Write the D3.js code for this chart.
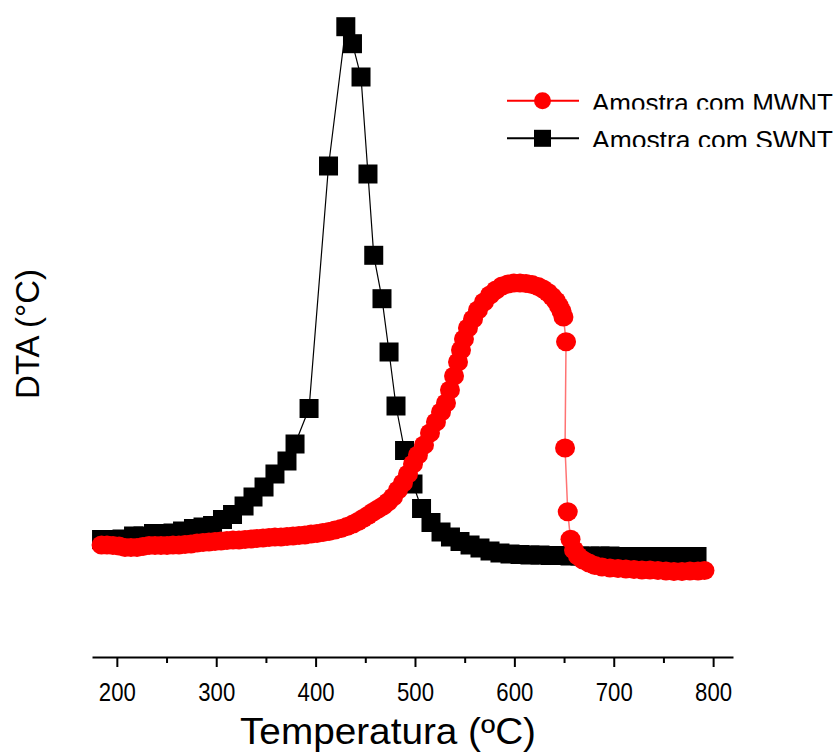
<!DOCTYPE html>
<html>
<head>
<meta charset="utf-8">
<script src="https://cdn.jsdelivr.net/npm/d3@7"></script>
<style>
  html, body { margin: 0; padding: 0; background: #fff; }
  svg { display: block; font-family: "Liberation Sans", Arial, sans-serif; }
</style>
</head>
<body>
<svg id="chart" width="840" height="754"></svg>
<script>
// DTA curves of the two carbon-nanotube samples (temperature in ºC, DTA signal)
const swntTemp = [184.6, 195.1, 205.2, 216.8, 226.3, 236.9, 246.4, 256.5, 266.1, 277.1,
  286.7, 296.3, 306.3, 316.4, 328.0, 337.0, 348.1, 359.1, 371.2, 379.3,
  393.4, 413.0, 430.4, 437.1, 445.7, 452.7, 458.5, 466.8, 473.9, 480.9,
  489.5, 498.0, 506.6, 516.1, 526.2, 535.7, 545.3, 555.4, 565.4, 575.5,
  585.5, 595.6, 605.7, 615.7, 625.8, 635.9, 645.9, 656.0, 666.0, 676.1,
  686.2, 696.2, 706.3, 716.4, 726.4, 736.5, 746.5, 756.6, 766.7, 776.7, 783.8];
const swntDTA = [0.005, 0.005, 0.01, 0.04, 0.04, 0.065, 0.065, 0.07, 0.09, 0.115,
  0.13, 0.145, 0.205, 0.255, 0.34, 0.43, 0.53, 0.66, 0.79, 0.96,
  1.315, 3.74, 5.133, 4.963, 4.63, 3.66, 2.847, 2.413, 1.88, 1.34,
  0.895, 0.56, 0.315, 0.175, 0.08, 0.03, -0.015, -0.05, -0.08, -0.11,
  -0.13, -0.14, -0.145, -0.15, -0.15, -0.155, -0.155, -0.16, -0.16, -0.16,
  -0.16, -0.16, -0.165, -0.165, -0.165, -0.165, -0.165, -0.165, -0.165, -0.165, -0.165];

const mwntTemp = [184.6, 190.1, 196.1, 202.2, 208.2, 214.2, 220.3, 226.3, 232.4, 238.4,
  244.4, 250.5, 256.5, 262.5, 268.6, 274.6, 280.7, 286.7, 292.7, 298.8,
  304.8, 310.8, 316.9, 322.9, 329.0, 335.0, 341.0, 347.1, 353.1, 359.1,
  365.2, 371.2, 377.3, 383.3, 389.3, 395.4, 401.4, 407.4, 413.5, 419.5,
  425.6, 431.6, 437.6, 442.7, 447.7, 452.7, 457.8, 462.8, 467.8, 472.8,
  477.9, 482.9, 487.9, 493.0, 498.0, 503.0, 509.1, 515.1, 521.1, 526.2,
  531.2, 535.2, 539.3, 543.3, 546.3, 549.3, 553.3, 558.4, 563.4, 569.4,
  575.5, 581.5, 587.6, 593.6, 599.6, 605.7, 611.7, 617.7, 623.8, 628.8,
  633.8, 637.9, 641.9, 644.9, 647.4, 649.4, 652.0, 651.0, 653.7, 656.5,
  660.0, 664.0, 669.1, 675.1, 681.1, 688.2, 696.2, 704.3, 712.3, 720.4,
  728.4, 736.5, 744.5, 752.6, 760.6, 768.7, 776.7, 784.8, 791.3];
const mwntDTA = [-0.05, -0.05, -0.055, -0.06, -0.075, -0.075, -0.075, -0.065, -0.055, -0.055,
  -0.055, -0.055, -0.05, -0.05, -0.045, -0.04, -0.03, -0.025, -0.02, -0.015,
  -0.01, -0.005, 0.0, 0.0, 0.005, 0.01, 0.015, 0.02, 0.025, 0.03,
  0.03, 0.035, 0.04, 0.045, 0.05, 0.06, 0.065, 0.075, 0.085, 0.10,
  0.115, 0.135, 0.16, 0.185, 0.215, 0.245, 0.28, 0.31, 0.34, 0.38,
  0.43, 0.50, 0.57, 0.66, 0.76, 0.85, 0.95, 1.07, 1.18, 1.28,
  1.37, 1.50, 1.64, 1.78, 1.90, 2.01, 2.12, 2.21, 2.30, 2.38,
  2.45, 2.50, 2.54, 2.56, 2.57, 2.57, 2.565, 2.555, 2.535, 2.51,
  2.475, 2.435, 2.39, 2.34, 2.29, 2.23, 1.983, 0.92, 0.283, 0.007,
  -0.10, -0.16, -0.20, -0.23, -0.255, -0.27, -0.28, -0.285, -0.29, -0.295,
  -0.30, -0.30, -0.305, -0.31, -0.315, -0.315, -0.31, -0.31, -0.305];

const majorTicks = [200, 300, 400, 500, 600, 700, 800];
const minorTicks = [250, 350, 450, 550, 650, 750];
const xTitle = "Temperatura (ºC)";
const yTitle = "DTA (°C)";
const seriesNames = ["Amostra com MWNT", "Amostra com SWNT"];

const svg = d3.select("#chart");
const x = d3.scaleLinear().domain([175, 820]).range([92, 733]);
const y = d3.scaleLinear().domain([-1.17, 5.4]).range([657, 0]);

const swnt = swntTemp.map((t, i) => ({ t, v: swntDTA[i] }));
const mwnt = mwntTemp.map((t, i) => ({ t, v: mwntDTA[i] }));
const line = d3.line().x(d => x(d.t)).y(d => y(d.v));

// x axis: major ticks with labels, shorter unlabeled minor ticks
const axisG = svg.append("g").attr("transform", `translate(0,${y(-1.17)})`);
axisG.call(d3.axisBottom(x).tickValues(majorTicks).tickSize(10).tickSizeOuter(0).tickPadding(16));
axisG.append("g").call(d3.axisBottom(x).tickValues(minorTicks).tickSize(6).tickSizeOuter(0).tickFormat(""))
  .select(".domain").remove();
axisG.selectAll(".domain").attr("stroke", "#000").attr("stroke-width", 2);
axisG.selectAll(".tick line").attr("stroke", "#000").attr("stroke-width", 2);
axisG.selectAll(".tick text").attr("font-size", 26).attr("fill", "#000")
  .attr("font-family", "Liberation Sans, Arial, sans-serif")
  .attr("textLength", 37).attr("lengthAdjust", "spacingAndGlyphs");

svg.append("text").attr("x", 388).attr("y", 744).attr("text-anchor", "middle")
  .attr("font-size", 36).attr("fill", "#000")
  .attr("textLength", 296).attr("lengthAdjust", "spacingAndGlyphs").text(xTitle);
svg.append("text").attr("transform", "translate(39,334) rotate(-90)").attr("text-anchor", "middle")
  .attr("font-size", 33).attr("fill", "#000").text(yTitle);

// SWNT: thin black line with square markers
svg.append("path").datum(swnt).attr("d", line).attr("fill", "none")
  .attr("stroke", "#000").attr("stroke-width", 1.2);
const sq = 19;
svg.append("g").selectAll("rect").data(swnt).join("rect")
  .attr("x", d => x(d.t) - sq / 2).attr("y", d => y(d.v) - sq / 2)
  .attr("width", sq).attr("height", sq).attr("fill", "#000");

// MWNT: light red line with round markers, drawn on top
svg.append("path").datum(mwnt).attr("d", line).attr("fill", "none")
  .attr("stroke", "#ff0000").attr("stroke-opacity", 0.55).attr("stroke-width", 1.5);
svg.append("g").selectAll("ellipse").data(mwnt).join("ellipse")
  .attr("cx", d => x(d.t)).attr("cy", d => y(d.v)).attr("rx", 10).attr("ry", 9.5)
  .attr("fill", "#ff0000");

// legend (text rows are cut off just above their baselines)
const defs = svg.append("defs");
const legend = svg.append("g");
const legendRows = [
  { name: seriesNames[0], color: "#ff0000", shape: "circle", y: 100.7, clipY: 109.5 },
  { name: seriesNames[1], color: "#000", shape: "square", y: 138.3, clipY: 147 }
];
legendRows.forEach((r, i) => {
  defs.append("clipPath").attr("id", "legclip" + i)
    .append("rect").attr("x", 585).attr("y", r.y - 30).attr("width", 255).attr("height", r.clipY - (r.y - 30));
  legend.append("line").attr("x1", 507).attr("x2", 579).attr("y1", r.y).attr("y2", r.y)
    .attr("stroke", r.color).attr("stroke-width", 2);
  if (r.shape === "circle") {
    legend.append("circle").attr("cx", 542.5).attr("cy", r.y).attr("r", 8.5).attr("fill", r.color);
  } else {
    legend.append("rect").attr("x", 534).attr("y", r.y - 8.5).attr("width", 17).attr("height", 17).attr("fill", r.color);
  }
  legend.append("text").attr("x", 592).attr("y", r.y + 11).attr("font-size", 26)
    .attr("clip-path", `url(#legclip${i})`)
    .attr("textLength", 241).attr("lengthAdjust", "spacingAndGlyphs")
    .attr("fill", "#000").text(r.name);
});
</script>
</body>
</html>
